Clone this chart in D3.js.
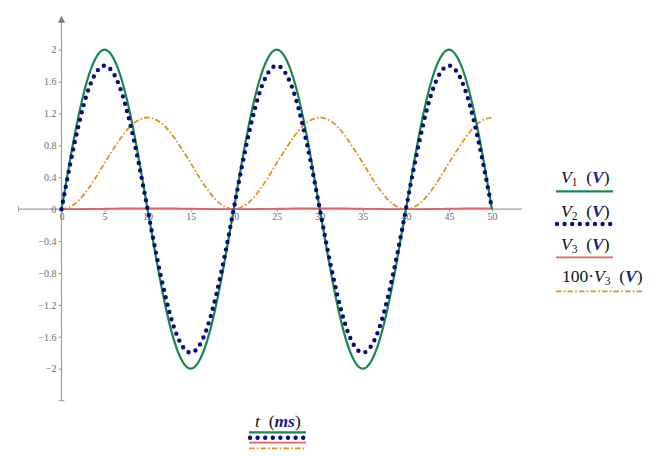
<html>
<head>
<title>V1 V2 V3 plot</title>
<script src="https://cdn.jsdelivr.net/npm/d3@7"></script>
<style>
  body { margin: 0; background: #fff; }
  .tick text { font-family: "Liberation Serif", serif; font-size: 10px; fill: #6a6a6a; }
  .tick line { stroke: #9a9a9a; }
  .lbl { font-family: "Liberation Serif", serif; font-size: 17.5px; fill: #111; }
  .unit { font-weight: bold; fill: #1c1c8c; }
</style>
</head>
<body>
<div id="chart"></div>
<script>

// time in ms
var t = d3.range(0, 51);

var v1 = [0, 0.62, 1.18, 1.62, 1.90, 2.00, 1.90, 1.62, 1.18, 0.62,
          0, -0.62, -1.18, -1.62, -1.90, -2.00, -1.90, -1.62, -1.18, -0.62,
          0, 0.62, 1.18, 1.62, 1.90, 2.00, 1.90, 1.62, 1.18, 0.62,
          0, -0.62, -1.18, -1.62, -1.90, -2.00, -1.90, -1.62, -1.18, -0.62,
          0, 0.62, 1.18, 1.62, 1.90, 2.00, 1.90, 1.62, 1.18, 0.62, 0];

var v2 = [0, 0.56, 1.06, 1.46, 1.71, 1.80, 1.71, 1.46, 1.06, 0.56,
          0, -0.56, -1.06, -1.46, -1.71, -1.80, -1.71, -1.46, -1.06, -0.56,
          0, 0.56, 1.06, 1.46, 1.71, 1.80, 1.71, 1.46, 1.06, 0.56,
          0, -0.56, -1.06, -1.46, -1.71, -1.80, -1.71, -1.46, -1.06, -0.56,
          0, 0.56, 1.06, 1.46, 1.71, 1.80, 1.71, 1.46, 1.06, 0.56, 0];

var v3 = [0, 0.0003, 0.0011, 0.0024, 0.0040, 0.0058, 0.0075, 0.0091, 0.0104, 0.0112,
          0.0115, 0.0112, 0.0104, 0.0091, 0.0075, 0.0058, 0.0040, 0.0024, 0.0011, 0.0003,
          0, 0.0003, 0.0011, 0.0024, 0.0040, 0.0058, 0.0075, 0.0091, 0.0104, 0.0112,
          0.0115, 0.0112, 0.0104, 0.0091, 0.0075, 0.0058, 0.0040, 0.0024, 0.0011, 0.0003,
          0, 0.0003, 0.0011, 0.0024, 0.0040, 0.0058, 0.0075, 0.0091, 0.0104, 0.0112, 0.0115];

var xTicks = [0, 5, 10, 15, 20, 25, 30, 35, 40, 45, 50];
var yTicks = [-2, -1.6, -1.2, -0.8, -0.4, 0, 0.4, 0.8, 1.2, 1.6, 2];

var width = 665, height = 456;

var x = d3.scaleLinear().domain([0, 50]).range([61.5, 492]);
var y = d3.scaleLinear().domain([-2, 2]).range([368.7, 49.7]);

var svg = d3.select("#chart").append("svg")
    .attr("width", width)
    .attr("height", height);

// axis lines (run past the data range)
var axisCol = "#a0a0a0";
svg.append("line")
    .attr("x1", x(-5)).attr("x2", x(53.5))
    .attr("y1", y(0)).attr("y2", y(0))
    .attr("stroke", axisCol).attr("stroke-width", 1.2);
svg.append("line")
    .attr("x1", x(-5)).attr("x2", x(-5))
    .attr("y1", y(0) - 3).attr("y2", y(0) + 3)
    .attr("stroke", axisCol);
svg.append("line")
    .attr("x1", x(0)).attr("x2", x(0))
    .attr("y1", y(-2.4)).attr("y2", y(2.35))
    .attr("stroke", axisCol).attr("stroke-width", 1.2);
svg.append("line")
    .attr("x1", x(0) - 3).attr("x2", x(0) + 3)
    .attr("y1", y(-2.4)).attr("y2", y(-2.4))
    .attr("stroke", axisCol);
svg.append("path")
    .attr("d", "M" + x(0) + "," + (y(2.35) - 6) + "l-3.5,7h7z")
    .attr("fill", "#7a7a7a");

var fmt = function(d) { return d < 0 ? "\u2212" + Math.abs(d) : String(d); };

svg.append("g")
    .attr("transform", "translate(" + x(0) + ",0)")
    .call(d3.axisLeft(y).tickValues(yTicks).tickSize(3).tickPadding(2).tickFormat(fmt))
    .call(function(g) { g.select(".domain").remove(); })
    .attr("font-family", "Liberation Serif").attr("font-size", 10);

svg.append("g")
    .attr("transform", "translate(0," + y(0) + ")")
    .call(d3.axisBottom(x).tickValues(xTicks).tickSize(3).tickPadding(1).tickFormat(fmt))
    .call(function(g) { g.select(".domain").remove(); })
    .attr("font-family", "Liberation Serif").attr("font-size", 10);

// series
function lineOf(vals, k) {
  return d3.line()
    .x(function(d, i) { return x(t[i]); })
    .y(function(d) { return y(d * (k || 1)); })
    .curve(d3.curveNatural)(vals);
}

var styles = {
  v1: { stroke: "#17874c", width: 2.2, dash: null, cap: "butt" },
  v2: { stroke: "#0a0a80", width: 4.4, dash: "0 7.6", cap: "round" },
  v3: { stroke: "#e06464", width: 1.8, dash: null, cap: "butt" },
  v3x: { stroke: "#e8901c", width: 1.8, dash: "5.5 2.2 1.6 2.2", cap: "butt" }
};

function styled(sel, s) {
  sel.attr("fill", "none")
    .attr("stroke", s.stroke)
    .attr("stroke-width", s.width)
    .attr("stroke-linecap", s.cap);
  if (s.dash) sel.attr("stroke-dasharray", s.dash);
  return sel;
}

styled(svg.append("path").attr("d", lineOf(v3, 100)), styles.v3x);
styled(svg.append("path").attr("d", lineOf(v3, 1)), styles.v3);
styled(svg.append("path").attr("d", lineOf(v1, 1)), styles.v1);
styled(svg.append("path").attr("d", lineOf(v2, 1)), styles.v2);

// legend on the right
function seriesLabel(g, px, py, prefix, sub) {
  var tx = g.append("text").attr("class", "lbl").attr("x", px).attr("y", py);
  if (prefix) tx.append("tspan").text(prefix);
  tx.append("tspan").attr("font-style", "italic").text("V");
  tx.append("tspan").attr("font-size", "11.5px").attr("dy", 3).text(sub);
  tx.append("tspan").attr("dy", -3).text("\u2002(");
  tx.append("tspan").attr("class", "unit").attr("font-style", "italic").text("V");
  tx.append("tspan").text(")");
}

var leg = svg.append("g");
seriesLabel(leg, 561, 183, null, "1");
seriesLabel(leg, 561, 216.5, null, "2");
seriesLabel(leg, 561, 250, null, "3");
seriesLabel(leg, 562, 281.5, "100\u00b7", "3");

function legLine(g, x1, x2, yy, s) {
  styled(g.append("line").attr("x1", x1).attr("x2", x2).attr("y1", yy).attr("y2", yy), s);
}
legLine(leg, 556, 613, 191.3, styles.v1);
legLine(leg, 557, 612, 224, styles.v2);
legLine(leg, 556, 613, 257.3, styles.v3);
legLine(leg, 556, 643, 291.3, styles.v3x);

// x legend
var xl = svg.append("g");
var tt = xl.append("text").attr("class", "lbl").attr("x", 255).attr("y", 426.5);
tt.append("tspan").attr("font-style", "italic").text("t");
tt.append("tspan").text("\u2002(");
tt.append("tspan").attr("class", "unit").attr("font-style", "italic").text("ms");
tt.append("tspan").text(")");

legLine(xl, 249, 306, 432.3, styles.v1);
legLine(xl, 250, 305, 437.7, styles.v2);
legLine(xl, 249, 306, 442.7, styles.v3);
legLine(xl, 249, 306, 448.3, styles.v3x);

</script>
</body>
</html>
